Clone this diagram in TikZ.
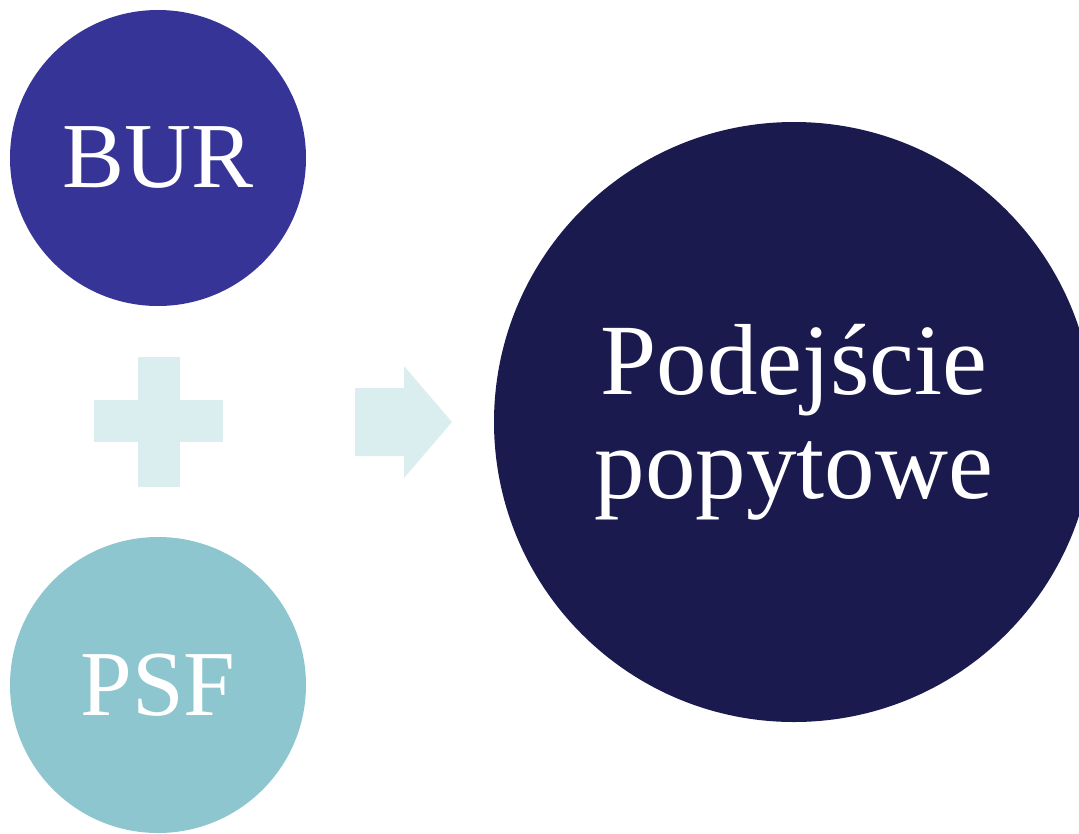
\documentclass[tikz,border=0pt]{standalone}
\usepackage{fontspec}
\setmainfont{Liberation Serif}
\definecolor{burc}{HTML}{363597}
\definecolor{psfc}{HTML}{8DC6CE}
\definecolor{bigc}{HTML}{1B1A4E}
\definecolor{lightc}{HTML}{DAEDEF}
\begin{document}
\begin{tikzpicture}[x=1pt,y=1pt,
  circ/.style={circle,inner sep=0pt,text=white,align=center},
  deco/.style={fill=lightc,draw=none}]
\useasboundingbox (0,0) rectangle (1079,-833);
\node[circ,fill=burc,minimum size=296pt,font=\fontsize{93}{100}\selectfont] (bur) at (158,-158) {BUR};
\node[circ,fill=psfc,minimum size=296pt,font=\fontsize{93}{100}\selectfont] (psf) at (158,-685) {PSF};
\node[circ,fill=bigc,minimum size=600pt,font=\fontsize{101}{104}\selectfont] (big) at (794,-422) {Podejście\\popytowe};
% plus sign
\fill[deco] (138,-357) rectangle (180,-487);
\fill[deco] (94,-400) rectangle (223,-442);
% arrow
\fill[deco] (355,-388) -- (404,-388) -- (404,-366) -- (452,-422) -- (404,-478) -- (404,-456) -- (355,-456) -- cycle;
\end{tikzpicture}
\end{document}
